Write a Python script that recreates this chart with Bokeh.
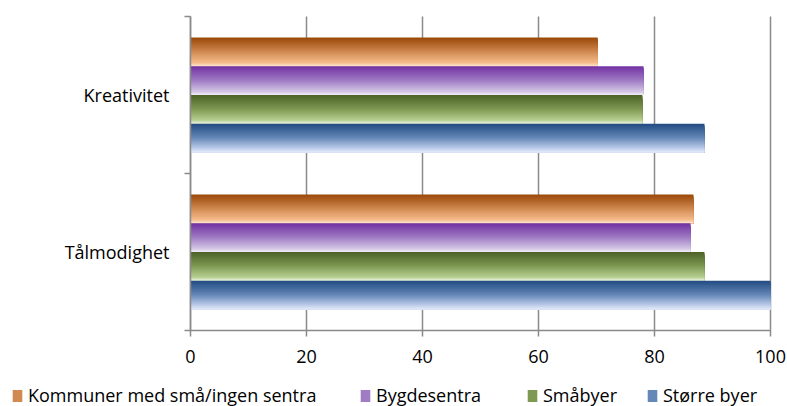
from bokeh.plotting import figure
from bokeh.models import FixedTicker, Legend, LegendItem, Range1d, ColumnDataSource
from bokeh.embed import file_html
from bokeh.resources import INLINE

# ---------------- data ----------------
categories = ["Kreativitet", "Tålmodighet"]          # top to bottom
series_names = ["Kommuner med små/ingen sentra", "Bygdesentra", "Småbyer", "Større byer"]
kommuner = [70.2, 86.7]
bygdesentra = [78.1, 86.2]
smabyer = [77.9, 88.6]
storre_byer = [88.6, 100.0]
x_ticks = [0, 20, 40, 60, 80, 100]

series_values = [kommuner, bygdesentra, smabyer, storre_byer]

# ---------------- style ----------------
FONT = "Open Sans"
FS = "18px"
GRAY = "#8a8a8a"
gradients = [
    [(0.0, "#9c4a0a"), (0.5, "#d08a52"), (0.9, "#f6bc8c"), (1.0, "#fde3cc")],
    [(0.0, "#7434a4"), (0.5, "#a07cc4"), (0.9, "#d4c6e4"), (1.0, "#eee8f5")],
    [(0.0, "#4f6329"), (0.5, "#7e9a52"), (0.9, "#b8d094"), (1.0, "#eaf2dc")],
    [(0.0, "#254e84"), (0.5, "#6688b8"), (0.9, "#c4d2ee"), (1.0, "#e2e9f8")],
]
BAR = 0.1831      # bar thickness in category units
N_STRIPS = 29
W, H = 787, 406
PX_X, X0 = 5.8, 190        # pixels per x unit, pixel of x = 0
PX_Y, Y0 = 157.0, 330      # pixels per category, pixel of y = 0


def hex2rgb(h):
    h = h.lstrip("#")
    return tuple(int(h[i:i + 2], 16) for i in (0, 2, 4))


def interp(stops, t):
    for (t0, c0), (t1, c1) in zip(stops[:-1], stops[1:]):
        if t0 <= t <= t1:
            f = (t - t0) / (t1 - t0) if t1 > t0 else 0
            a, b = hex2rgb(c0), hex2rgb(c1)
            r = [round(a[i] + (b[i] - a[i]) * f) for i in range(3)]
            return "#%02x%02x%02x" % tuple(r)
    return stops[-1][1]


n_cat = len(categories)
n_ser = len(series_values)
cols = dict(left=[], right=[], top=[], bottom=[], color=[])
for ci, cat in enumerate(categories):
    center = n_cat - ci - 0.5
    group_top = center + BAR * n_ser / 2
    for si, vals in enumerate(series_values):
        bar_top = group_top - si * BAR
        bar_bottom = bar_top - BAR
        for k in range(N_STRIPS):
            t = k / (N_STRIPS - 1)
            cols["left"].append(0)
            cols["right"].append(vals[ci])
            cols["top"].append(bar_top - k * BAR / N_STRIPS)
            cols["bottom"].append(bar_bottom)
            cols["color"].append(interp(gradients[si], t))
src = ColumnDataSource(cols)

x_range = Range1d(-X0 / PX_X, (W - X0) / PX_X)
y_range = Range1d(-(H - Y0) / PX_Y, Y0 / PX_Y)

p = figure(width=W, height=H, output_backend="svg", toolbar_location=None,
           x_range=x_range, y_range=y_range, min_border=0)
p.outline_line_color = None
p.background_fill_color = "white"
p.border_fill_color = "white"

# grid
p.ygrid.visible = False
p.xgrid.ticker = FixedTicker(ticks=x_ticks)
p.xgrid.grid_line_color = GRAY
p.xgrid.grid_line_width = 1.5
p.xgrid.cross_bounds = (0, n_cat)

bars = p.quad(source=src, left="left", right="right", top="top", bottom="bottom",
              fill_color="color", line_color=None)

# x axis
xa = p.xaxis[0]
xa.fixed_location = 0
xa.bounds = (x_ticks[0], x_ticks[-1])
xa.ticker = FixedTicker(ticks=x_ticks)
xa.axis_line_color = GRAY
xa.axis_line_width = 1.5
xa.major_tick_line_color = GRAY
xa.major_tick_line_width = 1.5
xa.major_tick_out = 6
xa.major_tick_in = 0
xa.minor_tick_out = 0
xa.minor_tick_in = 0
xa.major_label_standoff = 13
xa.major_label_text_font = FONT
xa.major_label_text_font_size = FS
xa.major_label_text_color = "#000000"

# y axis
ya = p.yaxis[0]
ya.fixed_location = 0
ya.bounds = (0, n_cat)
pos = [n_cat - i - 0.5 for i in range(n_cat)]
ya.ticker = FixedTicker(ticks=pos, minor_ticks=list(range(n_cat + 1)))
ya.major_label_overrides = {pos[i]: categories[i] for i in range(n_cat)}
ya.axis_line_color = GRAY
ya.axis_line_width = 1.5
ya.major_tick_out = 0
ya.major_tick_in = 0
ya.minor_tick_out = 6
ya.minor_tick_in = 0
ya.minor_tick_line_color = GRAY
ya.minor_tick_line_width = 1.5
ya.major_label_standoff = 15
ya.major_label_text_font = FONT
ya.major_label_text_font_size = FS
ya.major_label_text_color = "#000000"

# legend entries, placed like the original
legend_x = [11, 359, 526, 646]
for si, name in enumerate(series_names):
    item = LegendItem(label=name, renderers=[bars], index=si * N_STRIPS + N_STRIPS // 2)
    leg = Legend(items=[item], location=(legend_x[si], -1),
                 orientation="horizontal", glyph_width=12, glyph_height=15, label_height=12,
                 label_standoff=5, padding=0, margin=0, spacing=0,
                 border_line_color=None, background_fill_alpha=0,
                 label_text_font=FONT, label_text_font_size=FS, label_text_color="#000000")
    p.add_layout(leg, "center")

open("out.html", "w").write(file_html(p, INLINE))
